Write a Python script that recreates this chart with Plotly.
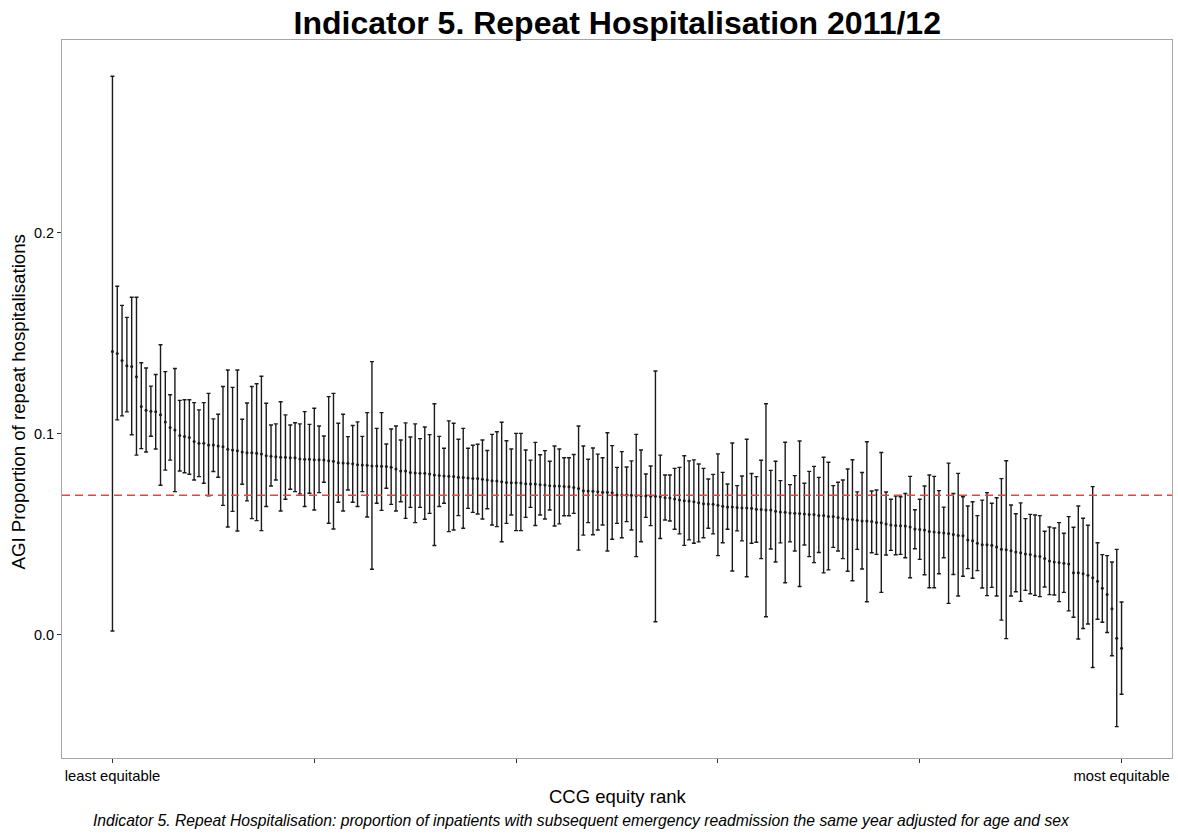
import plotly.graph_objects as go

# Point estimate and interval bounds per CCG, ordered from least to most equitable
est = [
    0.141, 0.140, 0.1366, 0.134, 0.1336, 0.1285, 0.1137, 0.1118, 0.1113, 0.111, 0.1096, 0.106, 0.1032, 0.102, 0.0993, 0.0987, 0.0983,
    0.0962, 0.0954, 0.0954, 0.0945, 0.0945, 0.094, 0.0937, 0.0924, 0.092, 0.0917, 0.091, 0.0907, 0.0906, 0.0904, 0.0901, 0.0892, 0.0889, 0.0887, 0.0884, 0.0884, 0.0882,
    0.0882, 0.0876, 0.0874, 0.0874, 0.0872, 0.0872, 0.0871, 0.0867, 0.0864, 0.0857, 0.0856, 0.0854, 0.0852, 0.0847, 0.0846, 0.0844, 0.0841, 0.0841, 0.0839, 0.0838,
    0.0834, 0.0826, 0.0816, 0.0816, 0.0808, 0.0806, 0.0804, 0.0804, 0.0801, 0.0796, 0.0794, 0.0791, 0.079, 0.0788, 0.0785, 0.0783, 0.0781, 0.0778, 0.0778, 0.0775,
    0.0771, 0.0767, 0.0766, 0.0762, 0.0759, 0.0757, 0.0757, 0.0756, 0.0752, 0.0751, 0.0751, 0.0748, 0.0746, 0.0743, 0.0741, 0.0741, 0.0739, 0.0738, 0.0734, 0.0729,
    0.0718, 0.0716, 0.0715, 0.0713, 0.071, 0.071, 0.0708, 0.0696, 0.0696, 0.0696, 0.0695, 0.0693, 0.0693, 0.0691, 0.069, 0.069, 0.0688, 0.0683, 0.0681,
    0.0677, 0.0672, 0.0668, 0.0667, 0.0663, 0.0658, 0.0653, 0.0652, 0.065, 0.0645, 0.064, 0.0637, 0.0637, 0.0634, 0.0632, 0.0632, 0.063, 0.0625, 0.0624, 0.0622,
    0.0622, 0.0615, 0.0612, 0.061, 0.0607, 0.0605, 0.0604, 0.0602, 0.060, 0.0599, 0.0595, 0.0594, 0.059, 0.0589, 0.0585, 0.0579, 0.0576, 0.0574, 0.0571, 0.0567,
    0.0567, 0.0565, 0.056, 0.0558, 0.0552, 0.0547, 0.0545, 0.0544, 0.0542, 0.0537, 0.0527, 0.0525, 0.0522, 0.0515, 0.0512, 0.051, 0.0507, 0.0505, 0.05, 0.0495,
    0.0494, 0.0472, 0.0469, 0.0456, 0.0449, 0.0449, 0.0446, 0.0438, 0.0426, 0.0424, 0.0419, 0.0413, 0.0409, 0.0403, 0.0401, 0.0393, 0.0391, 0.038, 0.0368, 0.0363,
    0.0360, 0.0357, 0.0353, 0.0310, 0.0310, 0.0305, 0.0297, 0.0285, 0.0267, 0.0232, 0.0202, 0.0131, -0.0016, -0.0066,
]
lo = [
    0.002, 0.107, 0.109, 0.111, 0.0996, 0.0895, 0.0927, 0.091, 0.0989, 0.0925, 0.0745, 0.082, 0.087, 0.0713, 0.0816, 0.0807, 0.080,
    0.0771, 0.0788, 0.0755, 0.0692, 0.0813, 0.0785, 0.0645, 0.0537, 0.0615, 0.0517, 0.075, 0.0667, 0.0579, 0.0569, 0.0519, 0.0639, 0.0741, 0.0771, 0.0617, 0.0675, 0.0725,
    0.0713, 0.0702, 0.0639, 0.0705, 0.0622, 0.0708, 0.076, 0.0556, 0.0527, 0.066, 0.0617, 0.0721, 0.066, 0.0639, 0.0713, 0.0587, 0.0327, 0.0655, 0.062, 0.073,
    0.065, 0.0617, 0.0663, 0.058, 0.0635, 0.0559, 0.0635, 0.0576, 0.0605, 0.0445, 0.0639, 0.0655, 0.0514, 0.0522, 0.0594, 0.0531, 0.063, 0.061, 0.0602, 0.0577,
    0.0628, 0.0547, 0.0539, 0.0464, 0.0555, 0.0597, 0.0519, 0.0519, 0.0585, 0.0635, 0.0545, 0.0597, 0.0577, 0.0622, 0.0542, 0.0553, 0.0593, 0.0593, 0.0605, 0.0422,
    0.0497, 0.0559, 0.0499, 0.0522, 0.0547, 0.0418, 0.0476, 0.0555, 0.0484, 0.0564, 0.0522, 0.039, 0.0464, 0.0585, 0.0544, 0.0066, 0.048, 0.0572, 0.0567,
    0.0526, 0.0503, 0.0446, 0.0473, 0.0456, 0.0463, 0.0484, 0.0531, 0.0503, 0.0395, 0.0459, 0.0526, 0.0318, 0.0518, 0.0468, 0.029, 0.0456, 0.0461, 0.038, 0.0091,
    0.0428, 0.0363, 0.0458, 0.026, 0.0463, 0.0418, 0.0241, 0.0448, 0.039, 0.036, 0.041, 0.0309, 0.0324, 0.0436, 0.0418, 0.038, 0.0317, 0.027, 0.0426, 0.0328,
    0.0165, 0.0409, 0.0401, 0.0212, 0.0398, 0.0421, 0.0399, 0.0401, 0.0384, 0.0285, 0.0429, 0.0376, 0.03, 0.0235, 0.0235, 0.0305, 0.0384, 0.0157, 0.0301, 0.0194,
    0.0292, 0.033, 0.0282, 0.032, 0.0234, 0.0196, 0.0237, 0.0194, 0.0074, -0.0018, 0.0194, 0.0215, 0.0167, 0.0222, 0.0205, 0.0197, 0.0191, 0.0239, 0.0201, 0.0199,
    0.0166, 0.0212, 0.012, 0.0088, -0.002, 0.0032, 0.0055, -0.0162, 0.0078, 0.0063, 0.0012, -0.0103, -0.0456, -0.0295,
]
hi = [
    0.278, 0.1735, 0.164, 0.158, 0.168, 0.168, 0.1354, 0.1328, 0.1238, 0.1296, 0.1444, 0.131, 0.1195, 0.1326, 0.1167, 0.117, 0.117,
    0.1156, 0.112, 0.1156, 0.1202, 0.1075, 0.1098, 0.1236, 0.1318, 0.1232, 0.1318, 0.1073, 0.1154, 0.1236, 0.125, 0.1287, 0.1153, 0.1045, 0.105, 0.116, 0.1095, 0.1045,
    0.1056, 0.105, 0.1111, 0.1048, 0.1128, 0.104, 0.099, 0.1186, 0.1202, 0.1053, 0.1098, 0.0987, 0.1042, 0.106, 0.0988, 0.1106, 0.136, 0.1028, 0.1106, 0.095,
    0.1025, 0.104, 0.097, 0.1055, 0.0985, 0.105, 0.0977, 0.1035, 0.0997, 0.115, 0.0988, 0.0929, 0.1065, 0.1053, 0.0974, 0.1028, 0.0929, 0.0944, 0.0949, 0.097,
    0.0918, 0.0998, 0.1011, 0.1058, 0.0966, 0.0925, 0.1003, 0.1003, 0.092, 0.087, 0.0958, 0.0897, 0.0917, 0.0864, 0.094, 0.0925, 0.0882, 0.0882, 0.0898, 0.104,
    0.094, 0.0874, 0.093, 0.09, 0.0882, 0.1006, 0.0942, 0.0834, 0.0912, 0.0836, 0.0866, 0.0998, 0.092, 0.0801, 0.0841, 0.1313, 0.0895, 0.0796, 0.0796,
    0.0829, 0.0834, 0.0892, 0.0866, 0.0871, 0.0851, 0.0829, 0.0776, 0.0799, 0.0901, 0.0809, 0.0751, 0.0955, 0.0743, 0.0791, 0.0974, 0.0803, 0.0788, 0.0869, 0.115,
    0.0819, 0.0864, 0.0768, 0.0959, 0.0748, 0.0793, 0.0965, 0.0755, 0.0814, 0.0839, 0.0784, 0.0884, 0.0859, 0.0743, 0.076, 0.0771, 0.0826, 0.0872, 0.0712, 0.0808,
    0.0961, 0.0716, 0.0721, 0.0908, 0.0711, 0.0675, 0.0691, 0.0688, 0.0704, 0.0789, 0.0623, 0.0675, 0.0741, 0.0796, 0.0789, 0.0718, 0.0636, 0.0855, 0.0704, 0.0804,
    0.0688, 0.0642, 0.0663, 0.0594, 0.0671, 0.0708, 0.0655, 0.0683, 0.0778, 0.0867, 0.0647, 0.0603, 0.0657, 0.0579, 0.060, 0.0597, 0.0594, 0.0516, 0.0537, 0.0532,
    0.0559, 0.0506, 0.0589, 0.0536, 0.0642, 0.0581, 0.0546, 0.0738, 0.0459, 0.040, 0.0395, 0.0363, 0.0426, 0.0164,
]

national_rate = 0.0695
x_tick_text = ["least equitable", "", "", "", "", "most equitable"]

n = len(est)
rank = list(range(1, n + 1))
err_plus = [h - e for h, e in zip(hi, est)]
err_minus = [e - l for e, l in zip(est, lo)]
tick_pos = [1 + k * (n - 1) / 5 for k in range(6)]

FONT = "Liberation Sans, Arial, sans-serif"
INK = "#1a1a1a"

fig = go.Figure()
fig.add_trace(go.Scatter(
    x=rank, y=est, mode="markers",
    marker=dict(color=INK, size=3),
    error_y=dict(type="data", symmetric=False, array=err_plus, arrayminus=err_minus,
                 color=INK, thickness=1.4, width=2),
    showlegend=False,
))

fig.add_shape(type="line", xref="paper", x0=0, x1=1, yref="y",
              y0=national_rate, y1=national_rate,
              line=dict(color="#ff3b3b", width=1.5, dash="8px,5px"), layer="above")

span = n - 1
pad = span * 0.05
fig.update_xaxes(range=[1 - pad, n + pad], tickvals=tick_pos, ticktext=x_tick_text,
                 ticks="outside", ticklen=4, tickcolor="#333333", showgrid=False,
                 zeroline=False, showline=True, mirror=True, linecolor="#a6a6a6",
                 linewidth=1, tickfont=dict(family=FONT, size=14.8, color="#000000"))
fig.update_yaxes(range=[-0.0612, 0.296], tickvals=[0.0, 0.1, 0.2],
                 ticktext=["0.0", "0.1", "0.2"], ticks="outside", ticklen=4,
                 tickcolor="#333333", showgrid=False, zeroline=False, showline=True,
                 mirror=True, linecolor="#a6a6a6", linewidth=1,
                 tickfont=dict(family=FONT, size=14.5, color="#000000"))

fig.update_layout(
    width=1178, height=835,
    margin=dict(l=62, r=6, t=40, b=77),
    plot_bgcolor="white", paper_bgcolor="white",
    title=dict(text="<b>Indicator 5. Repeat Hospitalisation 2011/12</b>",
               x=0.524, xanchor="center", y=1 - 23 / 835, yanchor="middle",
               font=dict(family=FONT, size=32, color="#000000")),
    annotations=[
        dict(text="CCG equity rank", xref="paper", yref="paper", x=0.5, y=-0.053,
             xanchor="center", yanchor="middle", showarrow=False,
             font=dict(family=FONT, size=18.5, color="#000000")),
        dict(text="AGI Proportion of repeat hospitalisations", xref="paper", yref="paper",
             x=-0.039, y=0.496, xanchor="center", yanchor="middle", textangle=-90,
             showarrow=False, font=dict(family=FONT, size=18.7, color="#000000")),
        dict(text="<i>Indicator 5. Repeat Hospitalisation: proportion of inpatients with subsequent "
                  "emergency readmission the same year adjusted for age and sex</i>",
             xref="paper", yref="paper", x=0.468, y=-0.0864, xanchor="center",
             yanchor="middle", showarrow=False,
             font=dict(family=FONT, size=15.7, color="#000000")),
    ],
)

fig.write_html("out.html")
